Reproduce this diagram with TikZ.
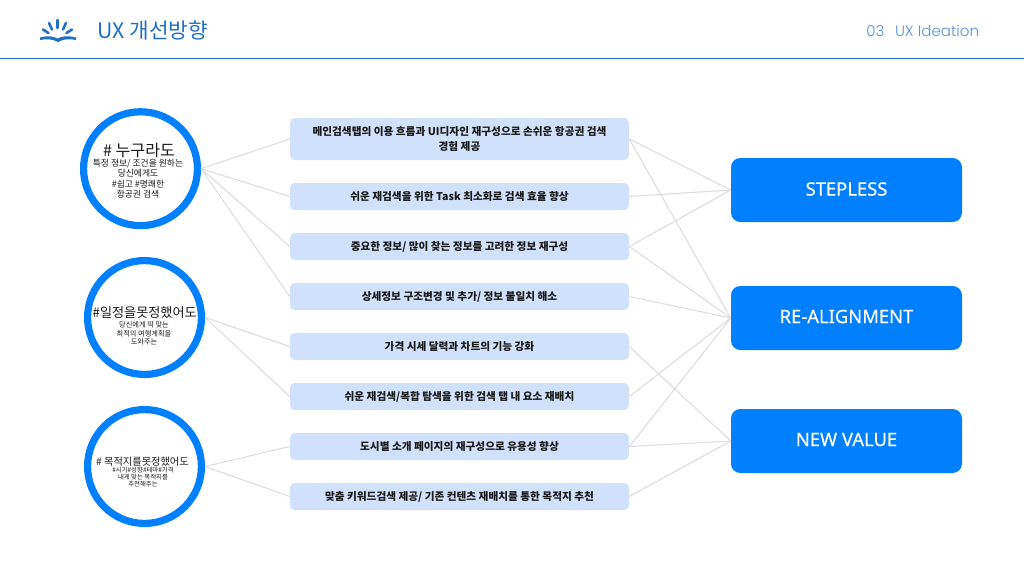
\documentclass[tikz,border=0pt]{standalone}
\usepackage{fontspec}
\setmainfont{Noto Sans CJK KR}
\newfontfamily\latin[FakeBold=0.25]{Noto Sans}
\newfontfamily\thinf{Poppins Light}
\definecolor{brand}{HTML}{0080FF}
\definecolor{soft}{HTML}{D0E1FB}
\definecolor{wire}{HTML}{DCDCDC}
\definecolor{head}{HTML}{1F6FC4}
\definecolor{ink}{HTML}{1A1A1A}
\newcommand{\fs}[2]{\fontsize{#1}{#2}\selectfont}
\tikzset{
  x=0.75pt,y=-0.75pt,
  ring/.style={circle,draw=brand,line width=5.4pt,fill=white,minimum size=85.4pt,inner sep=0pt},
  ringtext/.style={inner sep=0pt,align=center,text=ink},
  midbox/.style={rounded corners=3.5pt,fill=soft,minimum width=254.25pt,inner sep=0pt,align=center,text=ink,font=\fs{8}{10.8}\bfseries},
  bigbox/.style={rounded corners=7pt,fill=brand,minimum width=173.25pt,minimum height=48pt,inner sep=0pt,text=white,font=\latin\fs{13.8}{16}},
  bigtext/.style={inner sep=0pt,text=white,font=\latin\fs{13.8}{16}},
  wireline/.style={draw=wire,line width=0.75pt},
  logo/.style={draw=head,line width=1.95pt,line cap=round},
}
\begin{document}
\begin{tikzpicture}
\useasboundingbox (0,0) rectangle (1024,576);
\fill[white] (0,0) rectangle (1024,576);
% header
\draw[draw=head,line width=0.75pt] (0,58.5) -- (1024,58.5);
\draw[logo] (57.5,20) -- (57.5,28);
\draw[logo] (49,23) -- (52,29.5);
\draw[logo] (66,23) -- (63,29.5);
\draw[logo] (43,29.5) -- (48.5,33);
\draw[logo] (72,29.5) -- (66.5,33);
\fill[head] (40,37.5) .. controls (47,35.5) and (53,36) .. (57.5,38.5) .. controls (62,36) and (68,35.5) .. (76,37.5) -- (76,40) .. controls (69,38.5) and (63,39) .. (58,42) .. controls (53,39) and (46,38.5) .. (40,40) -- cycle;
\node[anchor=west,text=head,inner sep=0pt,font=\fs{16}{18}] (title) at (97,30.5) {UX 개선방향};
\node[anchor=west,text=head!75,inner sep=0pt,font=\thinf\fs{11.3}{14}] (section) at (866,31) {03\hspace{8pt}UX Ideation};
% circles
\node[ring] (c1) at (140.5,168.7) {};
\node[ring] (c2) at (144.5,317.5) {};
\node[ring] (c3) at (144.5,466.5) {};
\node[ringtext,font=\fs{12.1}{13}] (t1h) at (139,150.5) {\# 누구라도};
\node[ringtext,font=\fs{6.6}{7.8}] (t1) at (138,178.5) {특정 정보/ 조건을 원하는\\당신에게도\\\#쉽고 \#명쾌한\\항공권 검색};
\node[ringtext,font=\fs{9.85}{12}] (t2h) at (144.7,313) {\#일정을못정했어도};
\node[ringtext,font=\fs{5.4}{6.4}] (t2) at (144,333.3) {당신에게 딱 맞는\\최적의 여행계획을\\도와주는};
\node[ringtext,font=\fs{7.66}{10}] (t3h) at (142.5,461.5) {\# 목적지를못정했어도};
\node[ringtext,font=\fs{4.8}{5.35}] (t3) at (143,477) {\#시기\#성향\#테마\#가격\\내게 맞는 목적지를\\추천해주는};
% middle boxes
\node[midbox,minimum height=31.5pt] (b1) at (459.5,139) {메인검색탭의 이용 흐름과 UI디자인 재구성으로 손쉬운 항공권 검색\\경험 제공};
\node[midbox,minimum height=20.25pt] (b2) at (459.5,196.5) {쉬운 재검색을 위한 Task 최소화로 검색 효율 향상};
\node[midbox,minimum height=20.25pt] (b3) at (459.5,246.5) {중요한 정보/ 많이 찾는 정보를 고려한 정보 재구성};
\node[midbox,minimum height=20.25pt] (b4) at (459.5,296.5) {상세정보 구조변경 및 추가/ 정보 불일치 해소};
\node[midbox,minimum height=20.25pt] (b5) at (459.5,346.5) {가격 시세 달력과 차트의 기능 강화};
\node[midbox,minimum height=20.25pt] (b6) at (459.5,396.5) {쉬운 재검색/복합 탐색을 위한 검색 탭 내 요소 재배치};
\node[midbox,minimum height=20.25pt] (b7) at (459.5,446.5) {도시별 소개 페이지의 재구성으로 유용성 향상};
\node[midbox,minimum height=20.25pt] (b8) at (459.5,496.5) {맞춤 키워드검색 제공/ 기존 컨텐츠 재배치를 통한 목적지 추천};
% right boxes
\node[bigbox] (r1) at (846.5,190) {};
\node[bigbox] (r2) at (846.5,318) {};
\node[bigbox] (r3) at (846.5,441) {};
\node[bigtext] (r1t) at (846.5,189) {STEPLESS};
\node[bigtext] (r2t) at (846.5,316.5) {RE-ALIGNMENT};
\node[bigtext] (r3t) at (846.5,439.5) {NEW VALUE};
% connectors
\foreach \a/\b in {c1/b1,c1/b2,c1/b3,c1/b4,c2/b5,c2/b6,c3/b7,c3/b8}
  \draw[wireline] (\a.east) -- (\b.west);
\foreach \a/\b in {b1/r1,b2/r1,b3/r1,b1/r2,b3/r2,b4/r2,b6/r2,b7/r2,b5/r3,b7/r3,b8/r3}
  \draw[wireline] (\a.east) -- (\b.west);
\end{tikzpicture}
\end{document}
